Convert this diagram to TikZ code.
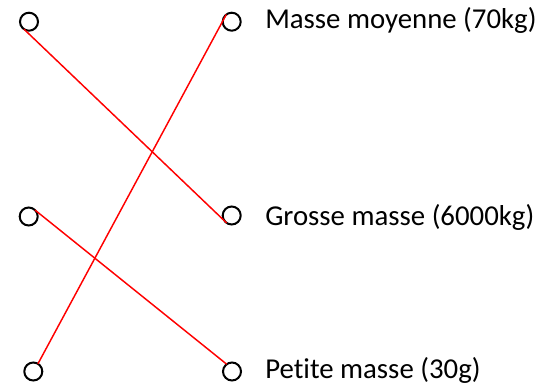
\documentclass[tikz,border=0pt]{standalone}
\usepackage{fontspec}
\setmainfont[Ligatures=NoCommon]{Carlito}
\usepackage{tikz}
\tikzstyle{dot}=[circle, draw=black, line width=1.5pt, minimum size=13.5pt, inner sep=0pt, outer sep=0pt]
\tikzstyle{link}=[draw=red, line width=1.1pt]
\tikzstyle{annot}=[anchor=base west, inner sep=0pt, font=\fontsize{21.6}{26}\selectfont]

\begin{document}
\begin{tikzpicture}[x=0.75pt, y=-0.75pt]
	\useasboundingbox (0,0) rectangle (544,386);

	\node[dot](left1) at (29,21.7){};
	\node[dot](left2) at (28.7,216.5){};
	\node[dot](left3) at (33.3,371.5){};
	\node[dot](right1) at (231.7,21.7){};
	\node[dot](right2) at (231.7,215.5){};
	\node[dot](right3) at (232,371.5){};

	\node[annot](mass1) at (265,28){Masse moyenne (70kg)};
	\node[annot](mass2) at (265,225){Grosse masse (6000kg)};
	\node[annot](mass3) at (265,378){Petite masse (30g)};

	%\draw[link] (left1) -- (right2);
	\draw[link] (left1.236) -- (right2.236);
	\draw[link] (right1.127) -- (left3.59);
	\draw[link] (left2.46) -- (right3.126);

\end{tikzpicture}
\end{document}
